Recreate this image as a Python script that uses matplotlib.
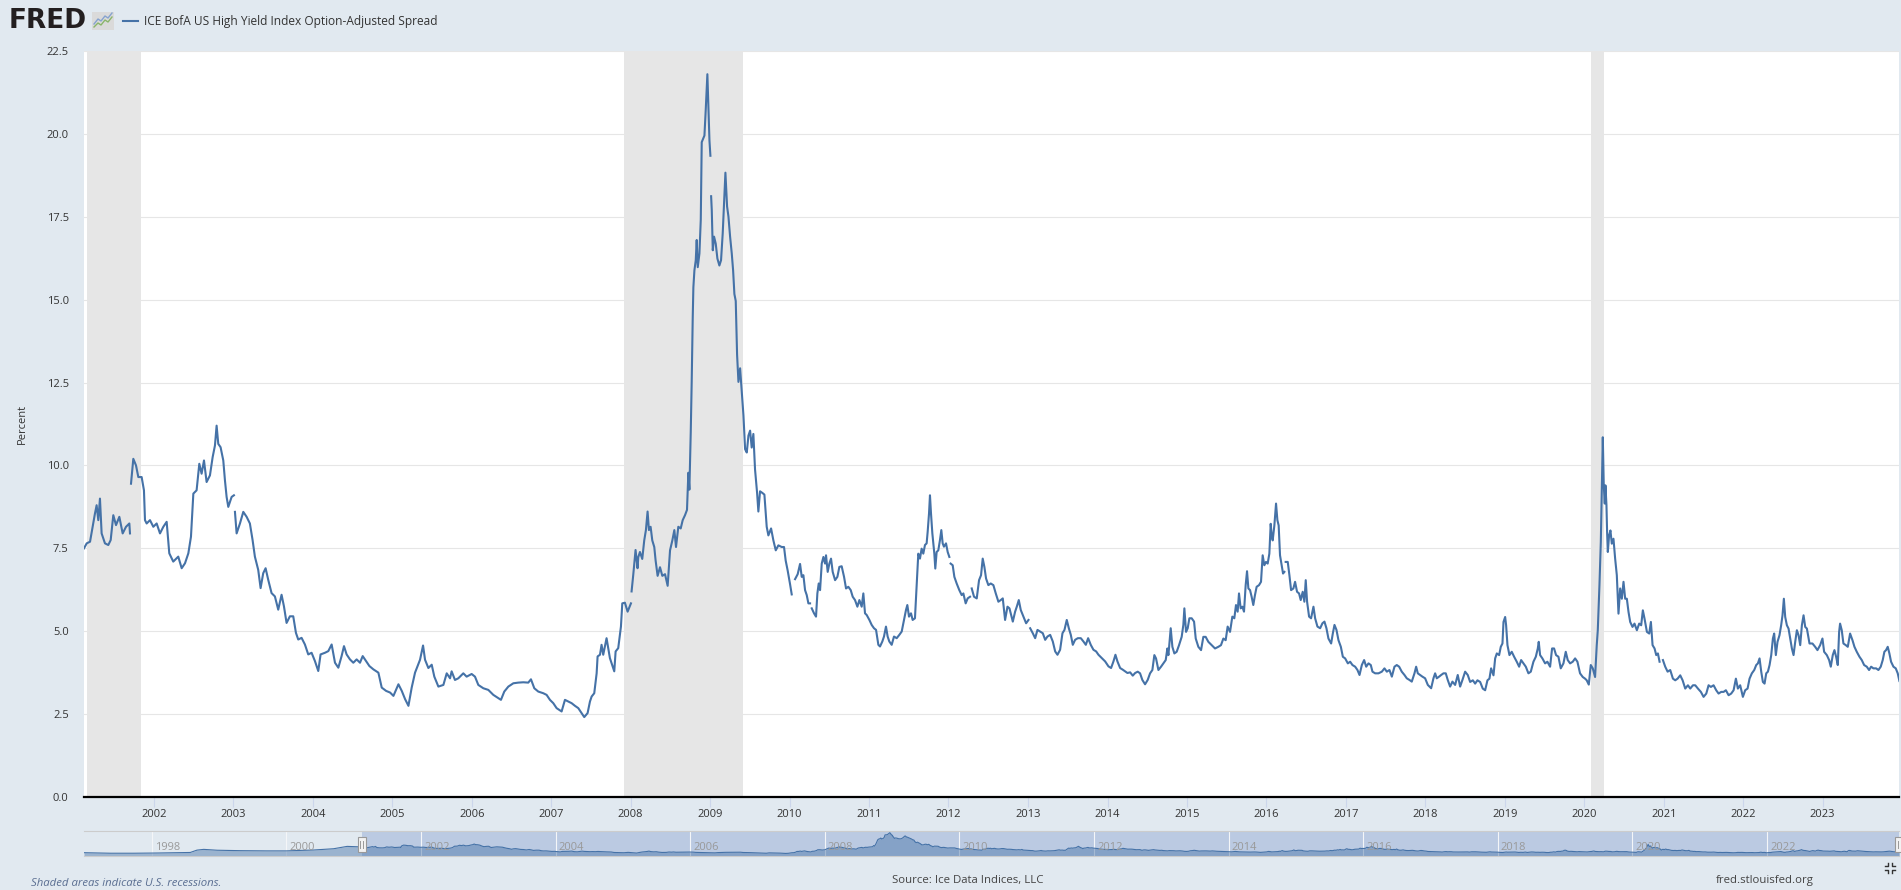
import numpy as np
import pandas as pd
import matplotlib
matplotlib.use("Agg")
import matplotlib.pyplot as plt
import matplotlib.dates as mdates
import matplotlib.transforms as mtransforms
from matplotlib.patches import Rectangle
from matplotlib.lines import Line2D
from matplotlib.ticker import FormatStrFormatter

plt.rcParams['font.family'] = ['Open Sans', 'DejaVu Sans']

nan = np.nan

# ICE BofA US High Yield OAS, percent (decimal year, value)
seg_2001 = [
    (2001.119, 7.50), (2001.153, 7.65), (2001.195, 7.70), (2001.228, 8.15), (2001.257, 8.55),
    (2001.278, 8.80), (2001.299, 8.35), (2001.320, 9.00), (2001.341, 7.95), (2001.383, 7.65),
    (2001.425, 7.60), (2001.455, 7.75), (2001.488, 8.50), (2001.522, 8.20), (2001.564, 8.45),
    (2001.606, 7.95), (2001.648, 8.15), (2001.690, 8.25), (2001.698, 7.95), (2001.705, nan),
    (2001.711, 9.45), (2001.740, 10.20), (2001.774, 10.00), (2001.803, 9.65), (2001.845, 9.65),
    (2001.874, 9.25), (2001.887, 8.35), (2001.908, 8.25), (2001.950, 8.35), (2001.992, 8.15),
    (2002.034, 8.25), (2002.076, 7.95), (2002.118, 8.15), (2002.160, 8.30), (2002.193, 7.35),
    (2002.243, 7.10), (2002.306, 7.25), (2002.349, 6.90), (2002.391, 7.05), (2002.433, 7.35),
    (2002.466, 7.85), (2002.496, 9.15), (2002.537, 9.25), (2002.571, 10.05), (2002.600, 9.75),
    (2002.630, 10.15), (2002.663, 9.50), (2002.705, 9.70), (2002.739, 10.25), (2002.768, 10.60),
    (2002.789, 11.20), (2002.810, 10.65), (2002.839, 10.55), (2002.873, 10.15), (2002.894, 9.55),
    (2002.915, 9.05), (2002.936, 8.75), (2002.978, 9.05), (2003.007, 9.10), (2003.012, nan),
    (2003.020, 8.60), (2003.041, 7.95), (2003.083, 8.25), (2003.125, 8.60), (2003.167, 8.45),
    (2003.208, 8.25), (2003.242, 7.75), (2003.271, 7.25), (2003.313, 6.85), (2003.343, 6.30),
    (2003.376, 6.75), (2003.406, 6.90), (2003.439, 6.55), (2003.481, 6.15), (2003.523, 6.05),
    (2003.565, 5.65), (2003.607, 6.10), (2003.637, 5.75), (2003.670, 5.25), (2003.712, 5.45),
    (2003.754, 5.45), (2003.788, 4.95), (2003.817, 4.75), (2003.859, 4.80), (2003.901, 4.60),
    (2003.943, 4.30), (2003.985, 4.35), (2004.027, 4.10), (2004.069, 3.80), (2004.098, 4.30),
    (2004.153, 4.35), (2004.195, 4.40), (2004.237, 4.60), (2004.279, 4.05), (2004.321, 3.90),
    (2004.362, 4.25), (2004.392, 4.55), (2004.425, 4.30), (2004.467, 4.15), (2004.509, 4.05),
    (2004.551, 4.15), (2004.593, 4.05), (2004.627, 4.25), (2004.669, 4.10), (2004.711, 3.95),
    (2004.761, 3.85), (2004.824, 3.75), (2004.866, 3.30), (2004.921, 3.20), (2004.971, 3.15),
    (2005.013, 3.05), (2005.076, 3.40), (2005.118, 3.20), (2005.160, 2.95), (2005.202, 2.75),
    (2005.243, 3.30), (2005.285, 3.75),
]

seg_2005 = [
    (2005.348, 4.14), (2005.386, 4.57), (2005.411, 4.14), (2005.453, 3.89), (2005.495, 3.99),
    (2005.528, 3.63), (2005.579, 3.33), (2005.642, 3.38), (2005.684, 3.73), (2005.726, 3.58),
    (2005.746, 3.79), (2005.788, 3.53), (2005.830, 3.58), (2005.893, 3.73), (2005.935, 3.63),
    (2005.998, 3.71), (2006.040, 3.63), (2006.082, 3.38), (2006.145, 3.28), (2006.208, 3.23),
    (2006.271, 3.08), (2006.334, 2.98), (2006.367, 2.93), (2006.409, 3.18), (2006.460, 3.33),
    (2006.523, 3.43), (2006.586, 3.45), (2006.649, 3.46), (2006.711, 3.45), (2006.745, 3.55),
    (2006.787, 3.28), (2006.837, 3.18), (2006.900, 3.13), (2006.942, 3.08), (2006.984, 2.93),
    (2007.026, 2.83), (2007.068, 2.68), (2007.131, 2.58), (2007.173, 2.93), (2007.215, 2.88),
    (2007.257, 2.83), (2007.299, 2.75), (2007.341, 2.68), (2007.383, 2.53), (2007.416, 2.41),
    (2007.458, 2.53), (2007.488, 2.88), (2007.509, 3.03), (2007.542, 3.13), (2007.572, 3.73),
    (2007.584, 4.24), (2007.614, 4.29), (2007.634, 4.59), (2007.655, 4.29), (2007.697, 4.79),
    (2007.739, 4.19), (2007.794, 3.79), (2007.811, 4.39), (2007.844, 4.49), (2007.878, 5.14),
    (2007.895, 5.84), (2007.928, 5.86), (2007.962, 5.59), (2008.004, 5.84), (2008.008, nan),
    (2008.012, 6.20), (2008.033, 6.70), (2008.062, 7.45), (2008.087, 6.90),
]

seg_2008 = [
    (2008.096, 7.23), (2008.117, 7.39), (2008.146, 7.18), (2008.171, 7.74), (2008.192, 8.05),
    (2008.213, 8.61), (2008.230, 8.05), (2008.251, 8.15), (2008.272, 7.74), (2008.297, 7.54),
    (2008.314, 7.13), (2008.339, 6.67), (2008.369, 6.93), (2008.398, 6.67), (2008.432, 6.72),
    (2008.465, 6.37), (2008.495, 7.44), (2008.524, 7.74), (2008.549, 8.05), (2008.570, 7.54),
    (2008.599, 8.15), (2008.629, 8.10), (2008.654, 8.35), (2008.683, 8.50), (2008.708, 8.66),
    (2008.725, 9.78), (2008.738, 9.27), (2008.755, 11.00), (2008.767, 12.52), (2008.780, 14.46),
    (2008.788, 15.37), (2008.801, 15.88), (2008.818, 16.19), (2008.830, 16.80), (2008.843, 15.98),
    (2008.864, 16.39), (2008.881, 17.41), (2008.893, 19.75), (2008.910, 19.85), (2008.927, 19.95),
    (2008.943, 20.71), (2008.964, 21.80), (2008.977, 20.76), (2008.990, 19.80), (2009.002, 19.34),
    (2009.006, nan), (2009.011, 18.12), (2009.019, 17.71), (2009.032, 16.49), (2009.048, 16.90),
    (2009.069, 16.69), (2009.090, 16.24), (2009.115, 16.03), (2009.136, 16.19), (2009.157, 17.00),
    (2009.174, 17.91), (2009.191, 18.83), (2009.212, 17.81), (2009.229, 17.51), (2009.250, 16.90),
    (2009.271, 16.39), (2009.288, 15.88), (2009.304, 15.17), (2009.321, 14.96), (2009.338, 13.34),
    (2009.355, 12.52), (2009.376, 12.93), (2009.397, 12.22), (2009.418, 11.51), (2009.439, 10.49),
    (2009.460, 10.39), (2009.481, 10.90), (2009.502, 11.05), (2009.522, 10.54), (2009.543, 10.95),
    (2009.564, 9.88), (2009.590, 9.17), (2009.606, 8.61), (2009.627, 9.22), (2009.657, 9.17),
    (2009.682, 9.12), (2009.711, 8.15), (2009.732, 7.89), (2009.766, 8.10), (2009.795, 7.74),
    (2009.825, 7.44), (2009.858, 7.59), (2009.900, 7.54), (2009.929, 7.54), (2009.950, 7.13),
    (2009.975, 6.83), (2010.005, 6.42), (2010.026, 6.11), (2010.035, nan), (2010.068, 6.57),
    (2010.101, 6.72), (2010.131, 7.03),
]

seg_2010 = [
    (2010.152, 6.64), (2010.173, 6.69), (2010.194, 6.24), (2010.215, 6.09), (2010.236, 5.84),
    (2010.257, 5.84), (2010.265, nan), (2010.278, 5.69), (2010.307, 5.54), (2010.332, 5.44),
    (2010.349, 6.14), (2010.366, 6.44), (2010.383, 6.24), (2010.404, 7.04), (2010.425, 7.24),
    (2010.446, 7.04), (2010.458, 7.29), (2010.479, 6.79), (2010.500, 7.04), (2010.521, 7.19),
    (2010.542, 6.79), (2010.572, 6.54), (2010.601, 6.64), (2010.626, 6.94), (2010.655, 6.96),
    (2010.685, 6.64), (2010.710, 6.29), (2010.739, 6.34), (2010.769, 6.24), (2010.794, 6.04),
    (2010.823, 5.94), (2010.853, 5.74), (2010.878, 5.94), (2010.907, 5.74), (2010.928, 6.14),
    (2010.949, 5.54), (2010.970, 5.49), (2011.004, 5.34), (2011.033, 5.19), (2011.062, 5.09),
    (2011.088, 5.04), (2011.117, 4.59), (2011.138, 4.54), (2011.167, 4.69), (2011.188, 4.84),
    (2011.213, 5.14), (2011.234, 4.84), (2011.255, 4.69), (2011.285, 4.59), (2011.314, 4.84),
    (2011.348, 4.79), (2011.381, 4.89), (2011.411, 4.99), (2011.440, 5.34), (2011.465, 5.64),
    (2011.482, 5.79), (2011.503, 5.44), (2011.528, 5.54), (2011.549, 5.34), (2011.578, 5.39),
    (2011.599, 6.34), (2011.620, 7.34), (2011.641, 7.19), (2011.662, 7.49), (2011.683, 7.34),
    (2011.704, 7.60), (2011.725, 7.65), (2011.738, 8.00), (2011.755, 8.55), (2011.767, 9.10),
    (2011.780, 8.55), (2011.797, 7.95), (2011.809, 7.65), (2011.822, 7.34), (2011.834, 6.89),
    (2011.851, 7.39), (2011.872, 7.44), (2011.893, 7.75), (2011.910, 8.05), (2011.927, 7.65),
    (2011.943, 7.55), (2011.969, 7.65), (2011.990, 7.39), (2012.011, 7.24), (2012.015, nan),
    (2012.027, 7.04), (2012.053, 6.99), (2012.074, 6.64), (2012.103, 6.44), (2012.136, 6.24),
    (2012.166, 6.09), (2012.187, 6.14), (2012.216, 5.84), (2012.241, 5.99), (2012.271, 6.04),
    (2012.277, nan), (2012.292, 6.29), (2012.321, 6.04), (2012.355, 5.99), (2012.384, 6.54),
    (2012.409, 6.69), (2012.430, 7.19), (2012.451, 6.94), (2012.472, 6.59), (2012.501, 6.39),
    (2012.531, 6.44), (2012.564, 6.39), (2012.594, 6.14), (2012.627, 5.89), (2012.657, 5.94),
    (2012.682, 5.99), (2012.711, 5.34), (2012.741, 5.74), (2012.766, 5.69), (2012.787, 5.49),
    (2012.808, 5.29), (2012.837, 5.59), (2012.858, 5.74), (2012.883, 5.94), (2012.908, 5.64),
    (2012.942, 5.44), (2012.975, 5.24), (2013.005, 5.34), (2013.013, nan), (2013.026, 5.09),
    (2013.059, 4.94), (2013.089, 4.79), (2013.118, 5.04), (2013.152, 4.99), (2013.185, 4.94),
    (2013.215, 4.74), (2013.244, 4.84), (2013.278, 4.89), (2013.311, 4.69), (2013.341, 4.39),
    (2013.370, 4.29), (2013.403, 4.44), (2013.433, 4.94), (2013.458, 5.04), (2013.487, 5.34),
    (2013.513, 5.09), (2013.538, 4.89), (2013.563, 4.59), (2013.592, 4.74), (2013.626, 4.79),
    (2013.664, 4.79), (2013.697, 4.69), (2013.727, 4.59), (2013.756, 4.79), (2013.789, 4.59),
    (2013.823, 4.44), (2013.857, 4.39), (2013.886, 4.29), (2013.928, 4.19), (2013.970, 4.09),
    (2014.012, 3.94), (2014.045, 3.89), (2014.075, 4.09), (2014.100, 4.29), (2014.125, 4.09),
    (2014.159, 3.89), (2014.192, 3.84), (2014.222, 3.79), (2014.251, 3.74), (2014.285, 3.76),
    (2014.318, 3.66), (2014.348, 3.74),
]

seg_2014 = [
    (2014.381, 3.78), (2014.410, 3.73), (2014.439, 3.53), (2014.473, 3.40), (2014.506, 3.53),
    (2014.536, 3.73), (2014.565, 3.83), (2014.590, 4.28), (2014.611, 4.18), (2014.641, 3.83),
    (2014.674, 3.93), (2014.704, 4.03), (2014.733, 4.13), (2014.754, 4.48), (2014.767, 4.28),
    (2014.796, 5.09), (2014.817, 4.53), (2014.842, 4.33), (2014.871, 4.38), (2014.901, 4.58),
    (2014.934, 4.83), (2014.955, 5.19), (2014.968, 5.69), (2014.989, 4.98), (2015.010, 5.09),
    (2015.031, 5.39), (2015.060, 5.39), (2015.090, 5.29), (2015.111, 4.78), (2015.144, 4.53),
    (2015.178, 4.43), (2015.207, 4.83), (2015.236, 4.83), (2015.270, 4.68), (2015.312, 4.58),
    (2015.354, 4.48), (2015.396, 4.53), (2015.429, 4.58), (2015.459, 4.78), (2015.488, 4.73),
    (2015.513, 5.14), (2015.543, 4.98), (2015.572, 5.44), (2015.597, 5.39), (2015.618, 5.79),
    (2015.639, 5.59), (2015.656, 6.14), (2015.677, 5.69), (2015.698, 5.74), (2015.719, 5.59),
    (2015.740, 6.39), (2015.757, 6.81), (2015.774, 6.29), (2015.795, 6.24), (2015.815, 6.04),
    (2015.836, 5.79), (2015.857, 6.09), (2015.878, 6.34), (2015.908, 6.39), (2015.933, 6.49),
    (2015.954, 7.29), (2015.975, 6.99), (2015.996, 7.09), (2016.017, 7.04), (2016.038, 7.34),
    (2016.055, 8.24), (2016.067, 7.89), (2016.080, 7.74), (2016.101, 8.19), (2016.122, 8.85),
    (2016.139, 8.35), (2016.155, 8.19), (2016.172, 7.29), (2016.193, 6.99), (2016.210, 6.74),
    (2016.227, 6.79), (2016.231, nan), (2016.243, 7.09), (2016.269, 7.09), (2016.290, 6.69),
    (2016.311, 6.24), (2016.340, 6.29), (2016.361, 6.49), (2016.386, 6.19), (2016.411, 6.14),
    (2016.432, 5.94), (2016.457, 6.19), (2016.478, 5.89), (2016.495, 6.54), (2016.512, 5.89),
    (2016.537, 5.44), (2016.562, 5.39), (2016.592, 5.74), (2016.613, 5.39), (2016.642, 5.14),
    (2016.676, 5.09), (2016.705, 5.24), (2016.730, 5.29), (2016.755, 5.09), (2016.780, 4.78),
    (2016.814, 4.63), (2016.835, 4.93), (2016.856, 5.19), (2016.881, 5.04), (2016.906, 4.73),
    (2016.936, 4.53), (2016.961, 4.23), (2016.990, 4.18), (2017.024, 4.03), (2017.053, 4.08),
    (2017.082, 3.98), (2017.116, 3.93), (2017.145, 3.83), (2017.171, 3.68), (2017.200, 3.98),
    (2017.229, 4.13), (2017.255, 3.93), (2017.284, 4.03), (2017.313, 3.98), (2017.334, 3.78),
    (2017.368, 3.73), (2017.410, 3.73), (2017.452, 3.78), (2017.485, 3.88), (2017.515, 3.78),
    (2017.548, 3.83), (2017.578, 3.63), (2017.611, 3.93), (2017.640, 3.98), (2017.670, 3.93),
    (2017.703, 3.78), (2017.737, 3.68), (2017.766, 3.58), (2017.800, 3.53), (2017.829, 3.48),
    (2017.863, 3.73), (2017.884, 3.93), (2017.905, 3.73), (2017.934, 3.68), (2017.963, 3.63),
    (2017.997, 3.58), (2018.031, 3.38), (2018.073, 3.28), (2018.102, 3.58), (2018.123, 3.73),
    (2018.144, 3.58), (2018.173, 3.63), (2018.199, 3.68), (2018.228, 3.73), (2018.257, 3.73),
    (2018.282, 3.53), (2018.312, 3.33), (2018.341, 3.48), (2018.375, 3.38), (2018.408, 3.68),
    (2018.438, 3.33), (2018.467, 3.53), (2018.501, 3.78), (2018.534, 3.68),
]

seg_2018 = [
    (2018.564, 3.47), (2018.598, 3.52), (2018.627, 3.42), (2018.656, 3.52), (2018.690, 3.47),
    (2018.723, 3.27), (2018.753, 3.22), (2018.782, 3.52), (2018.807, 3.57), (2018.828, 3.88),
    (2018.858, 3.67), (2018.879, 4.18), (2018.900, 4.33), (2018.929, 4.28), (2018.950, 4.53),
    (2018.971, 4.63), (2018.984, 5.28), (2019.005, 5.43), (2019.017, 5.18), (2019.034, 4.58),
    (2019.059, 4.28), (2019.088, 4.38), (2019.118, 4.23), (2019.151, 4.08), (2019.181, 3.93),
    (2019.206, 4.13), (2019.235, 4.03), (2019.265, 3.93), (2019.298, 3.73), (2019.328, 3.78),
    (2019.361, 4.08), (2019.391, 4.23), (2019.416, 4.48), (2019.428, 4.68), (2019.445, 4.28),
    (2019.474, 4.18), (2019.508, 4.03), (2019.537, 4.08), (2019.571, 3.93), (2019.596, 4.48),
    (2019.621, 4.48), (2019.646, 4.28), (2019.676, 4.23), (2019.705, 3.88), (2019.739, 4.03),
    (2019.768, 4.38), (2019.793, 4.13), (2019.823, 4.03), (2019.856, 4.08), (2019.886, 4.18),
    (2019.915, 4.08), (2019.948, 3.73), (2019.982, 3.62), (2020.011, 3.57), (2020.032, 3.52),
    (2020.058, 3.39), (2020.083, 3.98), (2020.108, 3.88), (2020.137, 3.62), (2020.158, 4.58),
    (2020.171, 5.03), (2020.192, 6.39), (2020.209, 7.69), (2020.221, 9.20), (2020.234, 10.85),
    (2020.246, 9.40), (2020.259, 8.85), (2020.267, 9.40), (2020.280, 8.80), (2020.288, 7.99),
    (2020.297, 7.39), (2020.313, 7.89), (2020.330, 8.04), (2020.347, 7.64), (2020.368, 7.79),
    (2020.389, 7.19), (2020.410, 6.69), (2020.431, 5.53), (2020.452, 6.29), (2020.473, 5.98),
    (2020.494, 6.49), (2020.515, 5.98), (2020.536, 5.98), (2020.557, 5.58), (2020.578, 5.28),
    (2020.607, 5.13), (2020.632, 5.23), (2020.662, 5.03), (2020.691, 5.23), (2020.716, 5.18),
    (2020.737, 5.63), (2020.758, 5.38), (2020.788, 4.98), (2020.817, 4.93), (2020.838, 5.28),
    (2020.859, 4.58), (2020.884, 4.48), (2020.905, 4.28), (2020.926, 4.33), (2020.947, 4.08),
    (2020.965, nan), (2020.989, 4.13), (2021.018, 3.93), (2021.048, 3.78), (2021.081, 3.83),
    (2021.115, 3.57), (2021.144, 3.52), (2021.174, 3.57), (2021.207, 3.67), (2021.237, 3.52),
    (2021.270, 3.27), (2021.304, 3.37), (2021.333, 3.27), (2021.367, 3.37), (2021.396, 3.37),
    (2021.430, 3.27), (2021.467, 3.17), (2021.501, 3.02), (2021.535, 3.12), (2021.564, 3.37),
    (2021.593, 3.32), (2021.627, 3.37), (2021.660, 3.22), (2021.690, 3.12), (2021.723, 3.17),
    (2021.753, 3.17), (2021.782, 3.22), (2021.816, 3.07), (2021.849, 3.12), (2021.879, 3.22),
    (2021.908, 3.57), (2021.933, 3.27), (2021.962, 3.37), (2021.996, 3.02), (2022.025, 3.22),
    (2022.055, 3.27), (2022.080, 3.57), (2022.109, 3.73), (2022.139, 3.83), (2022.164, 3.98),
    (2022.185, 4.03), (2022.206, 4.18), (2022.227, 3.78), (2022.248, 3.47), (2022.269, 3.42),
    (2022.290, 3.73), (2022.311, 3.78), (2022.332, 3.98), (2022.353, 4.28), (2022.374, 4.78),
    (2022.390, 4.93), (2022.411, 4.28), (2022.432, 4.68), (2022.457, 4.88), (2022.478, 5.18),
    (2022.495, 5.48), (2022.512, 5.98), (2022.529, 5.43), (2022.550, 5.18), (2022.571, 5.08),
    (2022.592, 4.78), (2022.613, 4.48), (2022.634, 4.28), (2022.655, 4.68), (2022.676, 5.03),
    (2022.697, 4.88), (2022.718, 4.58), (2022.739, 5.18), (2022.760, 5.48), (2022.781, 5.13),
    (2022.802, 5.08), (2022.835, 4.63),
]

seg_2022 = [
    (2022.872, 4.63), (2022.906, 4.53), (2022.935, 4.43), (2022.969, 4.58), (2022.998, 4.78),
    (2023.019, 4.38), (2023.053, 4.28), (2023.082, 4.13), (2023.103, 3.93), (2023.128, 4.28),
    (2023.149, 4.43), (2023.170, 4.23), (2023.191, 3.98), (2023.208, 4.98), (2023.220, 5.23),
    (2023.241, 5.03), (2023.262, 4.63), (2023.292, 4.58), (2023.317, 4.53), (2023.346, 4.93),
    (2023.376, 4.73), (2023.401, 4.53), (2023.430, 4.38), (2023.464, 4.23), (2023.493, 4.13),
    (2023.523, 3.98), (2023.556, 3.93), (2023.585, 3.83), (2023.611, 3.93), (2023.640, 3.88),
    (2023.674, 3.88), (2023.703, 3.83), (2023.732, 3.93), (2023.757, 4.13), (2023.778, 4.38),
    (2023.799, 4.43), (2023.820, 4.53), (2023.841, 4.33), (2023.862, 4.08), (2023.892, 3.93),
    (2023.921, 3.88), (2023.946, 3.73), (2023.967, 3.50),
]

# only visible in the range selector below the chart
seg_pre2001 = [
    (1996.99, 3.1), (1997.38, 2.6), (1997.73, 2.6), (1998.07, 2.8), (1998.57, 3.3),
    (1998.67, 5.5), (1998.77, 6.2), (1998.97, 5.4), (1999.31, 5.0), (1999.71, 4.8),
    (2000.00, 4.8), (2000.40, 5.6), (2000.70, 6.8), (2000.90, 9.0), (2001.07, 8.6),
]

recessions = [("2001-03-01", "2001-11-01"), ("2007-12-01", "2009-06-01"), ("2020-02-01", "2020-04-01")]
year_ticks = list(range(2002, 2024))
nav_years = list(range(1998, 2024, 2))
view_start, view_end = 2001.119, 2023.962
nav_start = 1996.99


def to_date(y):
    yr = int(np.floor(y))
    a = pd.Timestamp(yr, 1, 1)
    b = pd.Timestamp(yr + 1, 1, 1)
    return a + (b - a) * (y - yr)


def unzip(seg):
    return [to_date(p[0]) for p in seg], [p[1] for p in seg]


main = seg_2001 + seg_2005 + seg_2008 + seg_2010 + seg_2014 + seg_2018 + seg_2022
dates, vals = unzip(main)
nav_dates, nav_vals = unzip(seg_pre2001 + [p for p in main if not np.isnan(p[1])])

W, H = 1901, 890
BG = '#e1e9f0'
BLUE = '#4572a7'
TXT = '#333333'


def fx(x):
    return x / W


def fy(y):
    return 1 - y / H


fig = plt.figure(figsize=(W / 100, H / 100), dpi=100, facecolor=BG)

# main chart
ax = fig.add_axes([fx(84), fy(797), fx(1899) - fx(84), fy(51) - fy(797)])
ax.set_facecolor('white')
for r0, r1 in recessions:
    ax.axvspan(pd.Timestamp(r0), pd.Timestamp(r1), color='#e6e6e6', lw=0, zorder=1)
ax.plot(dates, vals, color=BLUE, lw=1.5, zorder=3, solid_joinstyle='round')

ax.set_ylim(0, 22.5)
ax.set_xlim(to_date(view_start), to_date(view_end))
ax.set_yticks(np.arange(0, 22.51, 2.5))
ax.yaxis.set_major_formatter(FormatStrFormatter('%.1f'))
ax.set_xticks([pd.Timestamp(y, 1, 1) for y in year_ticks])
ax.set_xticklabels([str(y) for y in year_ticks])
ax.grid(axis='y', color='#e6e6e6', lw=0.8)
ax.set_axisbelow(True)
for s in ['left', 'right', 'top']:
    ax.spines[s].set_visible(False)
ax.spines['bottom'].set_color('black')
ax.spines['bottom'].set_linewidth(1.6)
ax.spines['bottom'].set_zorder(4)
ax.tick_params(axis='y', length=0, pad=11, labelsize=8, labelcolor=TXT)
ax.tick_params(axis='x', length=7, width=0.8, color='#ccd6eb', pad=1.5,
               labelsize=8, labelcolor=TXT, direction='out')
fig.text(fx(22), fy(424), 'Percent', rotation=90, ha='center', va='center', fontsize=8, color=TXT)

# range selector
axn = fig.add_axes([fx(84), fy(856), fx(1899) - fx(84), fy(831) - fy(856)])
axn.set_facecolor(BG)
axn.set_xlim(to_date(nav_start), to_date(view_end))
axn.set_ylim(0, 23.4)
axn.axvspan(to_date(view_start), to_date(view_end), color='#6685c2', alpha=0.3, lw=0, zorder=0)
for y in nav_years:
    axn.axvline(pd.Timestamp(y, 1, 1), color='#f4f6f8', lw=0.8, zorder=1)
axn.fill_between(nav_dates, nav_vals, 0, color=BLUE, alpha=0.45, lw=0, zorder=2)
axn.plot(nav_dates, nav_vals, color=BLUE, lw=0.8, zorder=3)
off = mtransforms.ScaledTranslation(3 / 100, 0, fig.dpi_scale_trans)
trans = mtransforms.blended_transform_factory(axn.transData, axn.transAxes) + off
for y in nav_years:
    axn.text(pd.Timestamp(y, 1, 1), 0.36, str(y), transform=trans, ha='left', va='center',
             fontsize=8, color='#999999', zorder=4)
axn.set_xticks([])
axn.set_yticks([])
for s in ['left', 'right']:
    axn.spines[s].set_visible(False)
for s in ['top', 'bottom']:
    axn.spines[s].set_color('#cccccc')
    axn.spines[s].set_linewidth(0.8)

# selector handles
for d in [view_start, view_end]:
    xp = axn.transData.transform((mdates.date2num(to_date(d)), 0))[0]
    fig.add_artist(Rectangle((fx(xp - 4), fy(852)), 8 / W, 15 / H, transform=fig.transFigure,
                             facecolor='#f2f2f2', edgecolor='#999999', lw=0.8, zorder=5))
    for dx in (-1.5, 1.5):
        fig.add_artist(Line2D([fx(xp + dx)] * 2, [fy(848), fy(841)], transform=fig.transFigure,
                              color='#999999', lw=0.7, zorder=6))

# header
fig.text(fx(9), fy(21), 'FRED', fontsize=19, fontweight='bold', family='DejaVu Sans',
         color='#231f20', ha='left', va='center')
fig.add_artist(Rectangle((fx(92), fy(30)), 22 / W, 18 / H, transform=fig.transFigure,
                         facecolor='#dadada', edgecolor='none'))
fig.add_artist(Line2D([fx(x) for x in (94, 98, 101, 105, 108, 112)],
                      [fy(y) for y in (27, 23, 25, 20, 22, 17)],
                      transform=fig.transFigure, color='#8ab56b', lw=1.0))
fig.add_artist(Line2D([fx(x) for x in (94, 98, 101, 105, 108, 112)],
                      [fy(y) for y in (24, 19, 21, 16, 18, 13)],
                      transform=fig.transFigure, color='#86a3cf', lw=1.0))
fig.add_artist(Line2D([fx(123), fx(138)], [fy(21), fy(21)], transform=fig.transFigure,
                      color=BLUE, lw=1.5))
fig.text(fx(144), fy(21), 'ICE BofA US High Yield Index Option-Adjusted Spread',
         fontsize=8.6, color=TXT, ha='left', va='center')

# footer
fig.text(fx(31), fy(884), 'Shaded areas indicate U.S. recessions.', style='italic',
         fontsize=8.2, color='#5a6e91', ha='left', va='center')
fig.text(fx(892), fy(880), 'Source: Ice Data Indices, LLC', fontsize=8.2, color='#444444',
         ha='left', va='center')
fig.text(fx(1716), fy(880), 'fred.stlouisfed.org', fontsize=8.2, color='#444444',
         ha='left', va='center')

# small fullscreen icon
cx, cy = 1890, 868
for sx in (-1, 1):
    for sy in (-1, 1):
        xs = [cx + sx * 5, cx + sx * 2, cx + sx * 2]
        ys = [cy + sy * 2, cy + sy * 2, cy + sy * 5]
        fig.add_artist(Line2D([fx(x) for x in xs], [fy(y) for y in ys],
                              transform=fig.transFigure, color='#333333', lw=1.0))

fig.savefig('out.png', dpi=100, facecolor=BG)
